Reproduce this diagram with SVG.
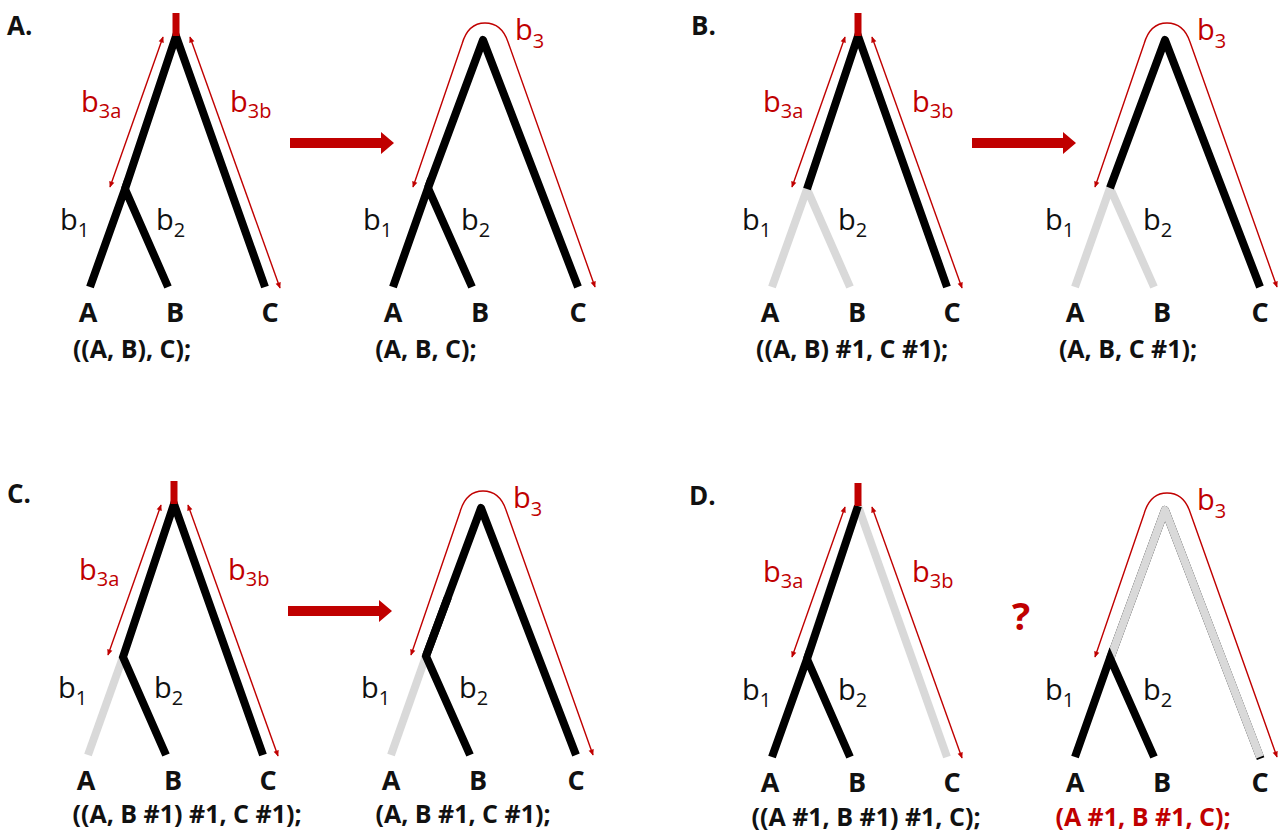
<svg xmlns="http://www.w3.org/2000/svg" width="1282" height="836" viewBox="0 0 1282 836">
<defs>
<marker id="ah" viewBox="0 0 10 10" refX="9" refY="5" markerWidth="7" markerHeight="6" markerUnits="userSpaceOnUse" orient="auto-start-reverse"><path d="M0,0.5 L10,5 L0,9.5 z" fill="#c00000"/></marker>
<style>
.br{fill:none;stroke:#000;stroke-width:8;stroke-linecap:butt;stroke-linejoin:miter}
.rd{stroke-linejoin:round}
.gr{stroke:#d9d9d9}
.stub{fill:none;stroke:#c00000;stroke-width:7}
.len{fill:none;stroke:#c00000;stroke-width:1.4;marker-start:url(#ah);marker-end:url(#ah)}
.big{fill:#c00000}
.bl{font-family:"Open Sans","DejaVu Sans",sans-serif;font-size:29px;fill:#111}
.bl.red{fill:#c00000}
.sub{font-size:20px}
.leaf{font-family:"Open Sans","DejaVu Sans",sans-serif;font-weight:bold;font-size:27px;text-anchor:middle;fill:#111}
.nwk{font-family:"Open Sans","DejaVu Sans",sans-serif;font-weight:bold;font-size:25px;text-anchor:middle;fill:#111}
.nwk.red{fill:#c00000}
.pl{font-family:"Open Sans","DejaVu Sans",sans-serif;font-weight:bold;font-size:26px;fill:#111}
</style>
</defs>
<rect width="1282" height="836" fill="#fff"/>

<!-- Panel A -->
<g id="panelA">
  <text class="pl" x="7" y="35">A.</text>
  <g id="A-tree1">
    <path class="br" d="M90,287 L125,189 L168,287"/>
    <path class="br" d="M125,189 L176,36 L265,287"/>
    <path class="stub" d="M176,13 V36"/>
    <text class="bl red" x="81" y="112">b<tspan class="sub" dy="6">3a</tspan></text>
    <text class="bl red" x="230" y="112">b<tspan class="sub" dy="6">3b</tspan></text>
    <text class="bl" x="60" y="230">b<tspan class="sub" dy="7">1</tspan></text>
    <text class="bl" x="156" y="230">b<tspan class="sub" dy="7">2</tspan></text>
    <text class="leaf" x="88" y="322">A</text>
    <text class="leaf" x="175" y="322">B</text>
    <text class="leaf" x="270" y="322">C</text>
    <text class="nwk" x="132" y="358">((A, B), C);</text>
  </g>
  <g id="A-tree2">
    <path class="br" d="M393,287 L428,188 L472,287"/>
    <path class="br rd" d="M428,188 L483,40 L578,287"/>
    <text class="bl red" x="515" y="40">b<tspan class="sub" dy="8">3</tspan></text>
    <text class="bl" x="363" y="230">b<tspan class="sub" dy="7">1</tspan></text>
    <text class="bl" x="461" y="230">b<tspan class="sub" dy="7">2</tspan></text>
    <text class="leaf" x="393" y="322">A</text>
    <text class="leaf" x="480" y="322">B</text>
    <text class="leaf" x="578" y="322">C</text>
    <text class="nwk" x="426" y="358">(A, B, C);</text>
  </g>
</g>

<!-- Panel B -->
<g id="panelB" transform="translate(682,0)">
  <text class="pl" x="9" y="35">B.</text>
  <g id="B-tree1">
    <path class="br gr" d="M90,287 L125,189 L168,287"/>
    <path class="br" d="M125,189 L176,36 L265,287"/>
    <path class="stub" d="M176,13 V36"/>
    <text class="bl red" x="81" y="112">b<tspan class="sub" dy="6">3a</tspan></text>
    <text class="bl red" x="230" y="112">b<tspan class="sub" dy="6">3b</tspan></text>
    <text class="bl" x="60" y="230">b<tspan class="sub" dy="7">1</tspan></text>
    <text class="bl" x="156" y="230">b<tspan class="sub" dy="7">2</tspan></text>
    <text class="leaf" x="88" y="322">A</text>
    <text class="leaf" x="175" y="322">B</text>
    <text class="leaf" x="270" y="322">C</text>
    <text class="nwk" x="170" y="358">((A, B) #1, C #1);</text>
  </g>
  <g id="B-tree2">
    <path class="br gr" d="M393,287 L428,188 L472,287"/>
    <path class="br rd" d="M428,188 L483,40 L578,287"/>
    <text class="bl red" x="515" y="40">b<tspan class="sub" dy="8">3</tspan></text>
    <text class="bl" x="363" y="230">b<tspan class="sub" dy="7">1</tspan></text>
    <text class="bl" x="461" y="230">b<tspan class="sub" dy="7">2</tspan></text>
    <text class="leaf" x="393" y="322">A</text>
    <text class="leaf" x="480" y="322">B</text>
    <text class="leaf" x="578" y="322">C</text>
    <text class="nwk" x="446" y="358">(A, B, C #1);</text>
  </g>
</g>

<!-- Panel C -->
<g id="panelC" transform="translate(-2,468)">
  <text class="pl" x="9" y="35">C.</text>
  <g id="C-tree1">
    <path class="br gr" d="M90,287 L125,189"/>
    <path class="br" d="M168,287 L125,189 L176,36 L265,287"/>
    <path class="stub" d="M176,13 V36"/>
    <text class="bl red" x="81" y="112">b<tspan class="sub" dy="6">3a</tspan></text>
    <text class="bl red" x="230" y="112">b<tspan class="sub" dy="6">3b</tspan></text>
    <text class="bl" x="60" y="230">b<tspan class="sub" dy="7">1</tspan></text>
    <text class="bl" x="156" y="230">b<tspan class="sub" dy="7">2</tspan></text>
    <text class="leaf" x="88" y="322">A</text>
    <text class="leaf" x="175" y="322">B</text>
    <text class="leaf" x="270" y="322">C</text>
    <text class="nwk" x="189" y="355">((A, B #1) #1, C #1);</text>
  </g>
  <g id="C-tree2">
    <path class="br gr" d="M393,287 L428,188"/>
    <path class="br" d="M472,287 L428,188 L450,129"/>
    <path class="br rd" d="M428,188 L483,40 L578,287"/>
    <text class="bl red" x="515" y="40">b<tspan class="sub" dy="8">3</tspan></text>
    <text class="bl" x="363" y="230">b<tspan class="sub" dy="7">1</tspan></text>
    <text class="bl" x="461" y="230">b<tspan class="sub" dy="7">2</tspan></text>
    <text class="leaf" x="393" y="322">A</text>
    <text class="leaf" x="480" y="322">B</text>
    <text class="leaf" x="578" y="322">C</text>
    <text class="nwk" x="465" y="355">(A, B #1, C #1);</text>
  </g>
</g>

<!-- Panel D -->
<g id="panelD" transform="translate(682,470)">
  <text class="pl" x="7" y="35">D.</text>
  <g id="D-tree1">
    <path class="br gr" d="M176,36 L265,287"/>
    <path class="br" d="M90,287 L125,189 L168,287"/>
    <path class="br" d="M125,189 L176,36"/>
    <path class="stub" d="M176,13 V36"/>
    <text class="bl red" x="81" y="112">b<tspan class="sub" dy="6">3a</tspan></text>
    <text class="bl red" x="230" y="112">b<tspan class="sub" dy="6">3b</tspan></text>
    <text class="bl" x="60" y="230">b<tspan class="sub" dy="7">1</tspan></text>
    <text class="bl" x="156" y="230">b<tspan class="sub" dy="7">2</tspan></text>
    <text class="leaf" x="88" y="322">A</text>
    <text class="leaf" x="175" y="322">B</text>
    <text class="leaf" x="270" y="322">C</text>
    <text class="nwk" x="184" y="356">((A #1, B #1) #1, C);</text>
  </g>
  <text id="D-question" x="339" y="160" font-family="'Open Sans','DejaVu Sans',sans-serif" font-weight="bold" font-size="38" fill="#c00000" text-anchor="middle">?</text>
  <g id="D-tree2">
    <path class="br rd" stroke="#1a1a1a" stroke-width="10" d="M428,189 L483,40 L578.6,288.6"/>
    <path class="br rd gr" stroke-width="6.5" d="M428,189 L483,40 L578,287"/>
    <path class="br" d="M393,287 L428,188 L472,287"/>
    <text class="bl red" x="515" y="40">b<tspan class="sub" dy="8">3</tspan></text>
    <text class="bl" x="363" y="230">b<tspan class="sub" dy="7">1</tspan></text>
    <text class="bl" x="461" y="230">b<tspan class="sub" dy="7">2</tspan></text>
    <text class="leaf" x="393" y="322">A</text>
    <text class="leaf" x="480" y="322">B</text>
    <text class="leaf" x="578" y="322">C</text>
    <text class="nwk red" x="461" y="356">(A #1, B #1, C);</text>
  </g>
</g>

<!-- Connectors -->
<g id="connectors">
  <g id="conn-A">
    <path class="len" d="M163,37 L110,187"/>
    <path class="len" d="M190,37 L280,288"/>
    <polygon class="big" points="290,138 381,138 381,132 394,143 381,154 381,148 290,148"/>
    <path class="len" d="M413,187 L462,44 C466,30 474,23 485,23 C496,23 504,30 508,42 L595,287"/>
  </g>
  <g id="conn-B" transform="translate(682,0)">
    <path class="len" d="M163,37 L110,187"/>
    <path class="len" d="M190,37 L280,288"/>
    <polygon class="big" points="290,138 381,138 381,132 394,143 381,154 381,148 290,148"/>
    <path class="len" d="M413,187 L462,44 C466,30 474,23 485,23 C496,23 504,30 508,42 L595,287"/>
  </g>
  <g id="conn-C" transform="translate(-2,468)">
    <path class="len" d="M163,37 L110,187"/>
    <path class="len" d="M190,37 L280,288"/>
    <polygon class="big" points="290,138 381,138 381,132 394,143 381,154 381,148 290,148"/>
    <path class="len" d="M413,187 L462,44 C466,30 474,23 485,23 C496,23 504,30 508,42 L595,287"/>
  </g>
  <g id="conn-D" transform="translate(682,470)">
    <path class="len" d="M163,37 L110,187"/>
    <path class="len" d="M190,37 L280,288"/>
    <path class="len" d="M413,187 L462,44 C466,30 474,23 485,23 C496,23 504,30 508,42 L595,287"/>
  </g>
</g>
</svg>
